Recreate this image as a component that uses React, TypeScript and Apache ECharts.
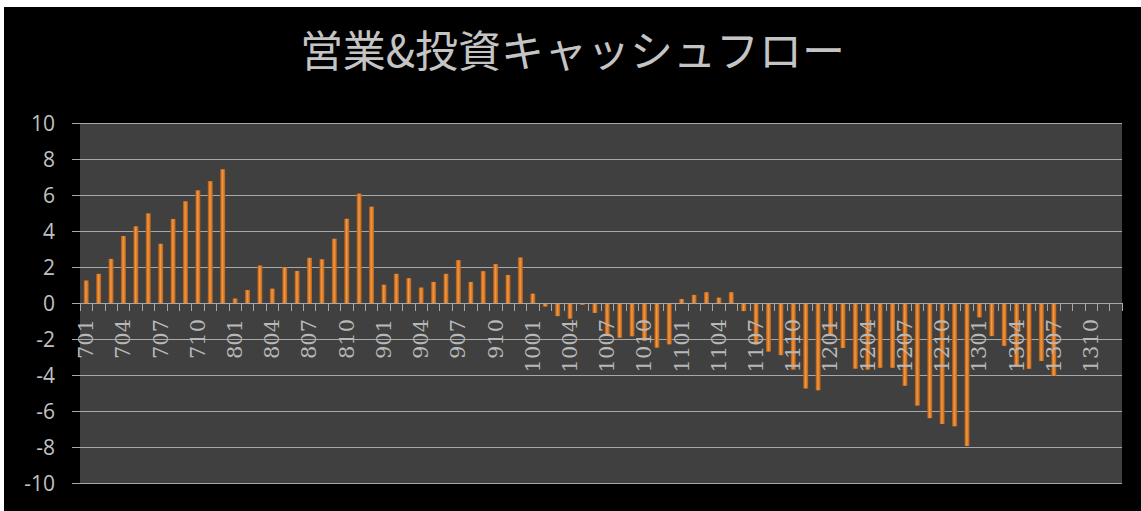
import React, { useEffect, useRef } from "react";
import * as echarts from "echarts";

const TITLE = "営業&投資キャッシュフロー";
const years = ["7", "8", "9", "10", "11", "12", "13"];
const months = ["01", "02", "03", "04", "05", "06", "07", "08", "09", "10", "11", "12"];
const categories = years.flatMap((y) => months.map((m) => y + m));

const y07 = [1.25, 1.62, 2.45, 3.72, 4.26, 4.98, 3.29, 4.67, 5.65, 6.26, 6.77, 7.43];
const y08 = [0.25, 0.72, 2.08, 0.8, 1.99, 1.78, 2.51, 2.43, 3.57, 4.68, 6.08, 5.35];
const y09 = [1.02, 1.62, 1.38, 0.86, 1.17, 1.62, 2.38, 1.17, 1.77, 2.16, 1.56, 2.53];
const y10 = [0.52, -0.2, -0.73, -0.87, -0.1, -0.55, -1.8, -1.93, -1.85, -2.1, -2.48, -2.3];
const y11 = [0.22, 0.45, 0.6, 0.3, 0.6, -0.45, -2.3, -2.7, -2.9, -3.7, -4.75, -4.85];
const y12 = [-1.8, -2.5, -3.65, -3.7, -3.6, -3.6, -4.6, -5.7, -6.4, -6.72, -6.85, -7.95];
const y13 = [-0.8, -1.84, -2.38, -3.45, -3.65, -3.22, -4.05, null, null, null, null, null];
const values = [...y07, ...y08, ...y09, ...y10, ...y11, ...y12, ...y13];

const yTicks = { min: -10, max: 10, interval: 2 };

const GRID_TOP = 116;
const GRID_BOTTOM = 28;
const CHART_H = 504;

export default function App() {
  const ref = useRef<HTMLDivElement>(null);
  useEffect(() => {
    if (!ref.current) return;
    const chart = echarts.init(ref.current, undefined, { renderer: "svg" });
    const plotH = CHART_H - GRID_TOP - GRID_BOTTOM;
    // zero line sits halfway between min and max
    const zeroOffset = -plotH * ((0 - yTicks.min) / (yTicks.max - yTicks.min));
    chart.setOption({
      animation: false,
      backgroundColor: "#000000",
      title: {
        text: TITLE,
        left: "center",
        top: 14,
        textStyle: {
          color: "#c4c4c4",
          fontSize: 43,
          fontWeight: "normal",
          fontFamily: "Noto Sans CJK JP",
        },
      },
      grid: {
        left: 76,
        right: 19,
        top: GRID_TOP,
        bottom: GRID_BOTTOM,
        show: true,
        backgroundColor: "#404040",
        borderWidth: 0,
        outerBoundsMode: "none",
        containLabel: false,
      },
      xAxis: {
        type: "category",
        data: categories,
        z: 5,
        position: "bottom",
        offset: zeroOffset,
        axisLine: { onZero: false, lineStyle: { color: "#a8a8a8", width: 1 } },
        axisTick: { show: true, interval: 0, length: 8, lineStyle: { color: "#a8a8a8" } },
        axisLabel: {
          interval: 2,
          rotate: 90,
          margin: 16,
          color: "#b8b8b8",
          fontSize: 21,
          fontFamily: "DejaVu Serif",
        },
        splitLine: { show: false },
      },
      yAxis: {
        type: "value",
        min: yTicks.min,
        max: yTicks.max,
        interval: yTicks.interval,
        axisLine: { show: false },
        axisTick: { show: true, length: 8, lineStyle: { color: "#a8a8a8" } },
        axisLabel: {
          color: "#c0c0c0",
          fontSize: 21,
          margin: 25,
          fontFamily: "Open Sans",
        },
        splitLine: { show: true, lineStyle: { color: "#a8a8a8", width: 1 } },
      },
      series: [
        {
          type: "bar",
          data: values,
          barWidth: 5,
          itemStyle: {
            color: new echarts.graphic.LinearGradient(0, 0, 1, 0, [
              { offset: 0, color: "#a8520c" },
              { offset: 0.45, color: "#f49a45" },
              { offset: 1, color: "#b95e10" },
            ]),
          },
        },
      ],
    });
    return () => chart.dispose();
  }, []);
  return (
    <div
      ref={ref}
      style={{ position: "absolute", left: 4, top: 7, width: 1137, height: 504 }}
    />
  );
}
